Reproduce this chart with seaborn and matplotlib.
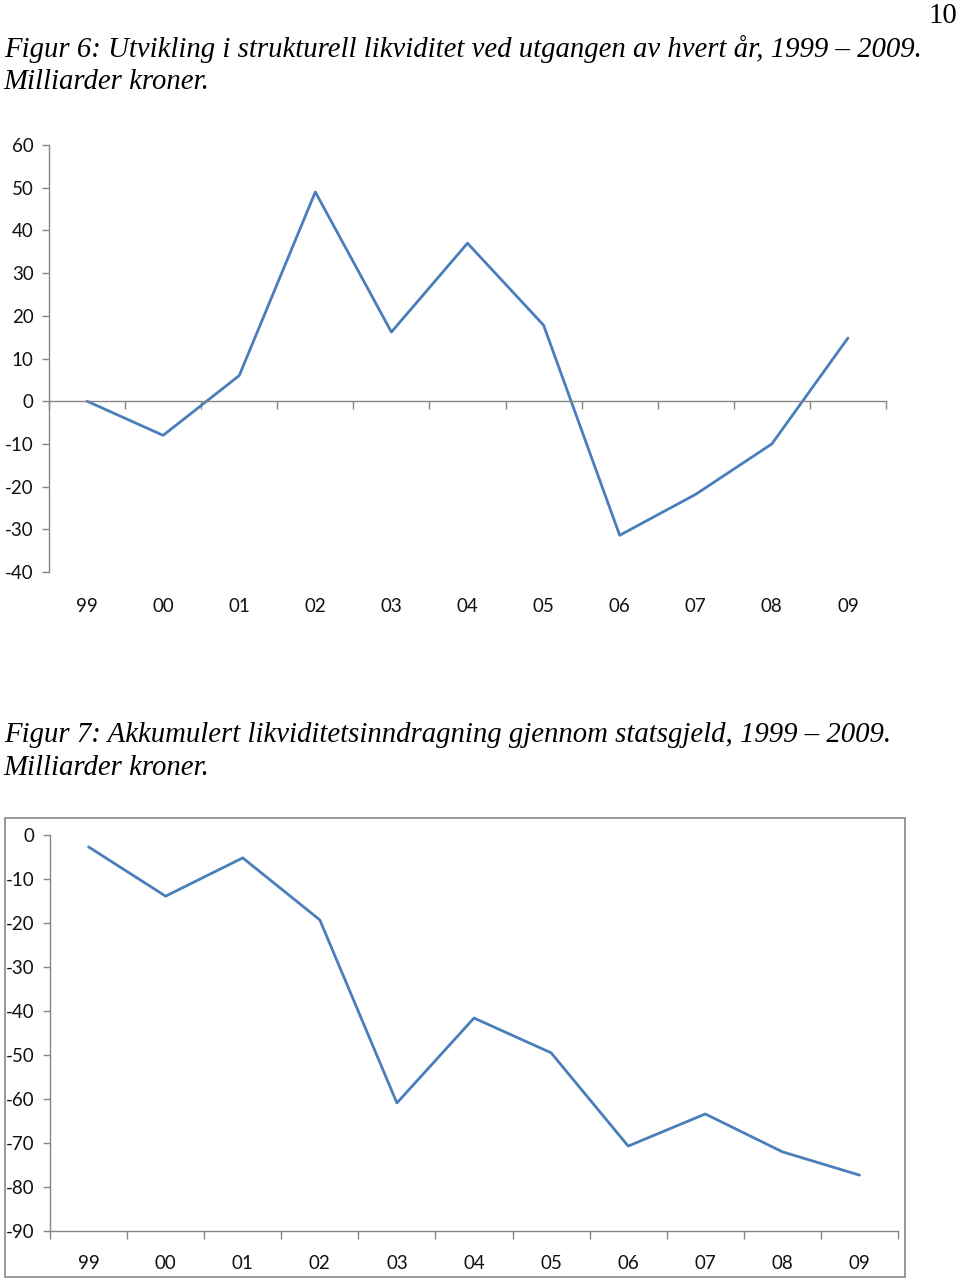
import matplotlib
matplotlib.use("Agg")
import matplotlib.pyplot as plt
import matplotlib.patches as mpatches
import numpy as np
import pandas as pd
import seaborn as sns

# data (billion NOK)
years = ["99", "00", "01", "02", "03", "04", "05", "06", "07", "08", "09"]
struct_liq = [0, -8, 6, 49, 16.2, 37, 17.8, -31.4, -21.8, -10, 14.8]
accum_debt = [-2.7, -13.9, -5.2, -19.3, -60.9, -41.6, -49.5, -70.7, -63.4, -72, -77.3]

title6 = "Figur 6: Utvikling i strukturell likviditet ved utgangen av hvert år, 1999 \u2013 2009."
title7 = "Figur 7: Akkumulert likviditetsinndragning gjennom statsgjeld, 1999 \u2013 2009."
subtitle = "Milliarder kroner."
page_no = "10"

sns.set_style("white")
plt.rcParams["font.family"] = ["Lato", "DejaVu Sans"]
plt.rcParams["axes.unicode_minus"] = False

LINE = "#4A7EBB"
AXIS = "#868686"

fig = plt.figure(figsize=(9.6, 12.8), dpi=100)
H = 1280.0


def fy(px):
    return 1 - px / H


serif = dict(family="Liberation Serif", fontsize=20.7, color="black")
fig.text(0.004, fy(57), title6, style="italic", va="baseline", ha="left", **serif)
fig.text(0.004, fy(89), subtitle, style="italic", va="baseline", ha="left", **serif)
fig.text(0.004, fy(742), title7, style="italic", va="baseline", ha="left", **serif)
fig.text(0.004, fy(775), subtitle, style="italic", va="baseline", ha="left", **serif)
fig.text(0.997, fy(23), page_no, va="baseline", ha="right", **serif)


def style_axis(ax, ylim, yticks, zero_line):
    n = len(years)
    ax.set_xlim(-0.5, n - 0.5)
    ax.set_ylim(*ylim)
    ax.set_yticks(yticks)
    ax.set_xlabel("")
    ax.set_ylabel("")
    for s in ["top", "right"]:
        ax.spines[s].set_visible(False)
    for s in ["left", "bottom"]:
        ax.spines[s].set_color(AXIS)
        ax.spines[s].set_linewidth(1.0)
    if zero_line:
        ax.spines["bottom"].set_position(("data", 0))
    ax.set_xticks(np.arange(n))
    ax.set_xticks(np.arange(n + 1) - 0.5, minor=True)
    ax.tick_params(axis="x", which="major", length=0, labelbottom=False)
    ax.tick_params(axis="x", which="minor", length=6, width=1.0, color=AXIS,
                   direction="out", bottom=True)
    ax.tick_params(axis="y", which="major", length=5, width=1.0, color=AXIS,
                   direction="out", labelsize=13.5, pad=6, left=True,
                   labelcolor="#111111")
    sec = ax.secondary_xaxis(0)
    sec.set_xticks(np.arange(n))
    sec.set_xticklabels(years)
    sec.tick_params(length=0, labelsize=13.5, labelcolor="#111111")
    sec.spines["bottom"].set_visible(False)
    return sec


# Figure 6
ax1 = fig.add_axes([49 / 960, fy(572), 837 / 960, (572 - 145) / H])
df1 = pd.DataFrame({"year": years, "value": struct_liq})
sns.lineplot(data=df1, x="year", y="value", ax=ax1, color=LINE, linewidth=2.0,
             sort=False)
sec1 = style_axis(ax1, (-40, 60), np.arange(-40, 61, 10), zero_line=True)
sec1.tick_params(pad=19)

# Figure 7
ax2 = fig.add_axes([50 / 960, fy(1231), 848 / 960, (1231 - 835) / H])
df2 = pd.DataFrame({"year": years, "value": accum_debt})
sns.lineplot(data=df2, x="year", y="value", ax=ax2, color=LINE, linewidth=2.0,
             sort=False)
sec2 = style_axis(ax2, (-90, 0), np.arange(-90, 1, 10), zero_line=False)
sec2.tick_params(pad=17)

# chart frame around figure 7
frame = mpatches.Rectangle((5 / 960, fy(1277)), 900 / 960, (1277 - 818) / H,
                           transform=fig.transFigure, fill=False,
                           edgecolor=AXIS, linewidth=1.2)
fig.patches.append(frame)

fig.savefig("out.png", dpi=100)
